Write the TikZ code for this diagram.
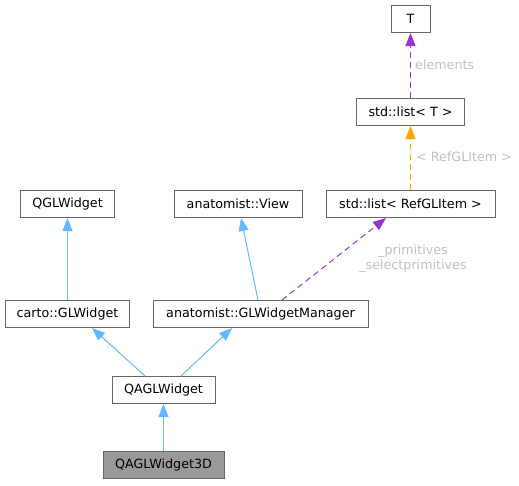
\documentclass[tikz,border=0pt]{standalone}
\usepackage{fontspec}
\setmainfont{DejaVu Sans}
\usetikzlibrary{arrows.meta,calc}
\definecolor{boxline}{HTML}{666666}
\definecolor{leaf}{HTML}{999999}
\definecolor{inhblue}{HTML}{63B8FF}
\definecolor{usepurple}{HTML}{9A32CD}
\definecolor{tmplorange}{HTML}{FFA500}
\definecolor{lblgray}{HTML}{C0C0C0}
\begin{document}
\begin{tikzpicture}[x=1pt,y=-1pt,
  every node/.style={font=\fontsize{12.7}{15}\selectfont},
  cls/.style={draw=boxline, line width=1pt, fill=white, minimum height=27pt, inner sep=0pt, text=black},
  inh/.style={draw=inhblue, line width=1pt, -{Triangle[length=13pt,width=10pt]}},
  usage/.style={draw=usepurple, line width=1pt, dash pattern=on 6pt off 4pt, -{Triangle[length=13pt,width=10pt]}},
  tmpl/.style={draw=tmplorange, line width=1pt, dash pattern=on 6pt off 4pt, -{Triangle[length=13pt,width=10pt]}},
  elbl/.style={text=lblgray, inner sep=0pt}]
\useasboundingbox (0,0) rectangle (519,485);
\node[cls, minimum width=39pt] (T) at (410.5,19) {T};
\node[cls, minimum width=108pt] (listT) at (410.5,112) {std::list< T >};
\node[cls, minimum width=169pt] (listRef) at (410.5,204) {std::list< RefGLItem >};
\node[cls, minimum width=94pt] (qgl) at (67.5,204) {QGLWidget};
\node[cls, minimum width=128pt] (view) at (238,204) {anatomist::View};
\node[cls, minimum width=124pt] (carto) at (67.5,314) {carto::GLWidget};
\node[cls, minimum width=215pt] (mgr) at (260.5,314) {anatomist::GLWidgetManager};
\node[cls, minimum width=103pt] (qagl) at (163.5,390) {QAGLWidget};
\node[cls, minimum width=121pt, fill=leaf] (qagl3d) at (163.5,465) {QAGLWidget3D};

\draw[usage] (listT.north) -- (T.south);
\node[elbl, anchor=west] (lElem) at (415,65) {elements};
\draw[tmpl] (listRef.north) -- (listT.south);
\node[elbl, anchor=west] (lRef) at (416,157) {< RefGLItem >};
\draw[inh] (carto.north) -- (qgl.south);
\draw[inh] ($(mgr.north)+(-2.5,0)$) -- ($(view.south)+(3,0)$);
\draw[usage] ($(mgr.north)+(21.5,0)$) -- ($(listRef.south)+(-24.5,0)$);
\node[elbl, align=center] (lPrim) at (413,259) {\_primitives\\\_selectprimitives};
\draw[inh] ($(qagl.north)+(-18.5,0)$) -- ($(carto.south)+(24.5,0)$);
\draw[inh] ($(qagl.north)+(17.5,0)$) -- ($(mgr.south)+(-28.5,0)$);
\draw[inh] (qagl3d.north) -- (qagl.south);
\end{tikzpicture}
\end{document}
